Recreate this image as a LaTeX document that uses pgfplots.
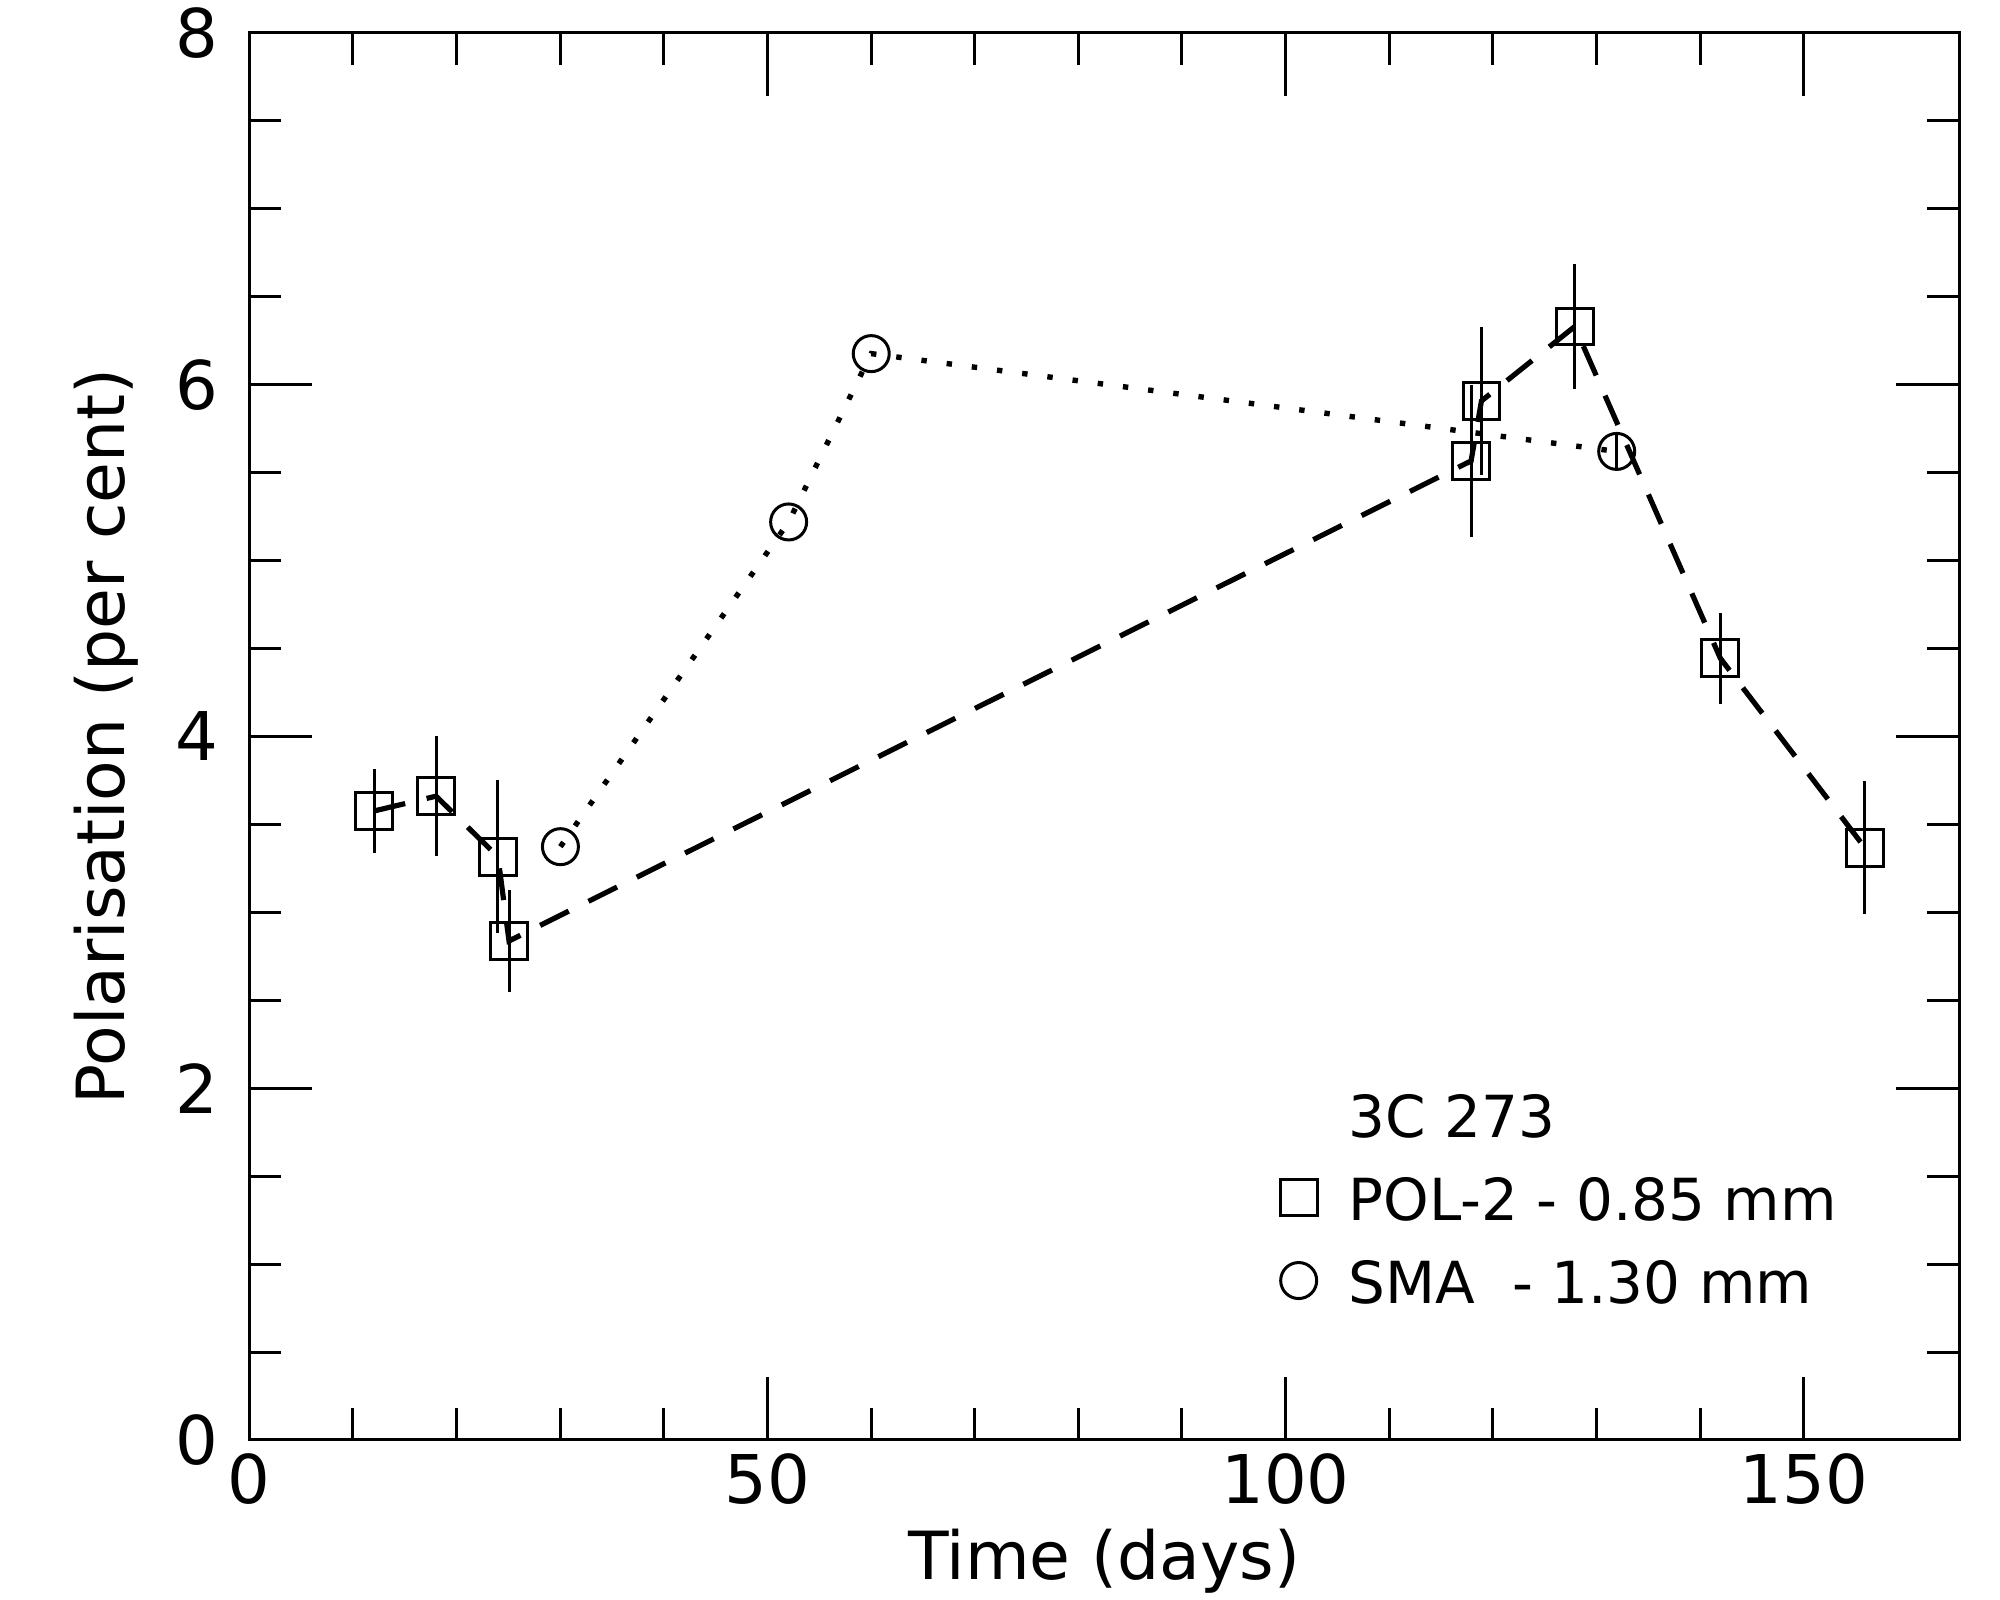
\documentclass[border=0pt]{standalone}
\usepackage{fontspec}
\setmainfont{DejaVu Sans}
\usepackage{pgfplots}
\usepackage{pgfplotstable}
\pgfplotsset{compat=1.18}
\usetikzlibrary{calc}
\newcommand\lstrut{\rule[-1.5pt]{0pt}{14.5pt}}
\pgfplotstableread{
x y e
12.05 3.576 0.24
18.03 3.66 0.34
24.0 3.316 0.435
25.07 2.837 0.29
117.9 5.566 0.43
118.9 5.907 0.42
127.9 6.33 0.355
141.95 4.444 0.26
155.9 3.367 0.377
}\pol
\pgfplotstableread{
x y e
30.03 3.373 0
52.05 5.219 0
60.02 6.176 0
131.95 5.62 0.1
}\sma
\begin{document}
\begin{tikzpicture}
\begin{axis}[name=ax, scale only axis, width=427.5pt, height=351.8pt,
 xmin=0, xmax=165, ymin=0, ymax=8,
 xtick={0,50,100,150}, ytick={0,2,4,6,8},
 minor x tick num=4, minor y tick num=3,
 tick align=inside, xtick pos=both, ytick pos=both,
 xticklabel pos=bottom, yticklabel pos=left,
 major tick length=15.75pt, minor tick length=8pt,
 every tick/.style={black, line width=0.75pt},
 axis line style={line width=0.75pt},
 tick label style={font=\fontsize{16.8}{20}\selectfont},
 /pgf/number format/assume math mode=true,
 yticklabel style={xshift=-4.2pt},
 xlabel={Time (days)}, ylabel={Polarisation (per cent)},
 label style={font=\fontsize{16.6}{20}\selectfont},
 xlabel style={at={([yshift=-35pt]axis description cs:0.5,0)}, anchor=base},
 ylabel style={at={([xshift=-31.1pt]axis description cs:0,0.5)}, anchor=base},
 legend cell align=left,
 legend style={draw=none, fill=none, inner sep=0pt, outer sep=0pt,
   at={(axis cs:99.49,2.015)}, anchor=north west,
   font=\fontsize{14.5}{17}\selectfont, row sep=6.25pt, column sep=7.9pt,
   nodes={inner sep=0pt, outer sep=0pt}, cells={anchor=west}},
 legend image code/.code={\draw[#1] plot coordinates {(0pt,0pt)};},
]
\addlegendimage{empty legend}
\addlegendentry{\lstrut 3C 273}
\addlegendimage{black, only marks, mark=square, mark size=4.6pt, line width=0.75pt}
\addlegendentry{\lstrut POL-2 - 0.85 mm}
\addlegendimage{black, only marks, mark=o, mark size=4.5pt, line width=0.75pt}
\addlegendentry{\lstrut SMA\ \ - 1.30 mm}

\addplot[forget plot, black, line width=1.3pt, dash pattern=on 8pt off 5.5pt,
  mark=square, mark size=4.6pt, mark options={solid, line width=0.75pt},
  error bars/.cd, y dir=both, y explicit, error mark=none,
  error bar style={solid, line width=0.75pt}]
  table[x=x, y=y, y error=e] {\pol};
\addplot[forget plot, black, line width=1.35pt, dash pattern=on 1.35pt off 5pt,
  mark=o, mark size=4.5pt, mark options={solid, line width=0.75pt},
  error bars/.cd, y dir=both, y explicit, error mark=none,
  error bar style={solid, line width=0.75pt}]
  table[x=x, y=y, y error=e] {\sma};
\end{axis}
\pgfresetboundingbox
\path[use as bounding box] ($(ax.south west)+(-62.3pt,-40pt)$) rectangle ($(ax.north east)+(10.2pt,8.2pt)$);
\end{tikzpicture}
\end{document}
